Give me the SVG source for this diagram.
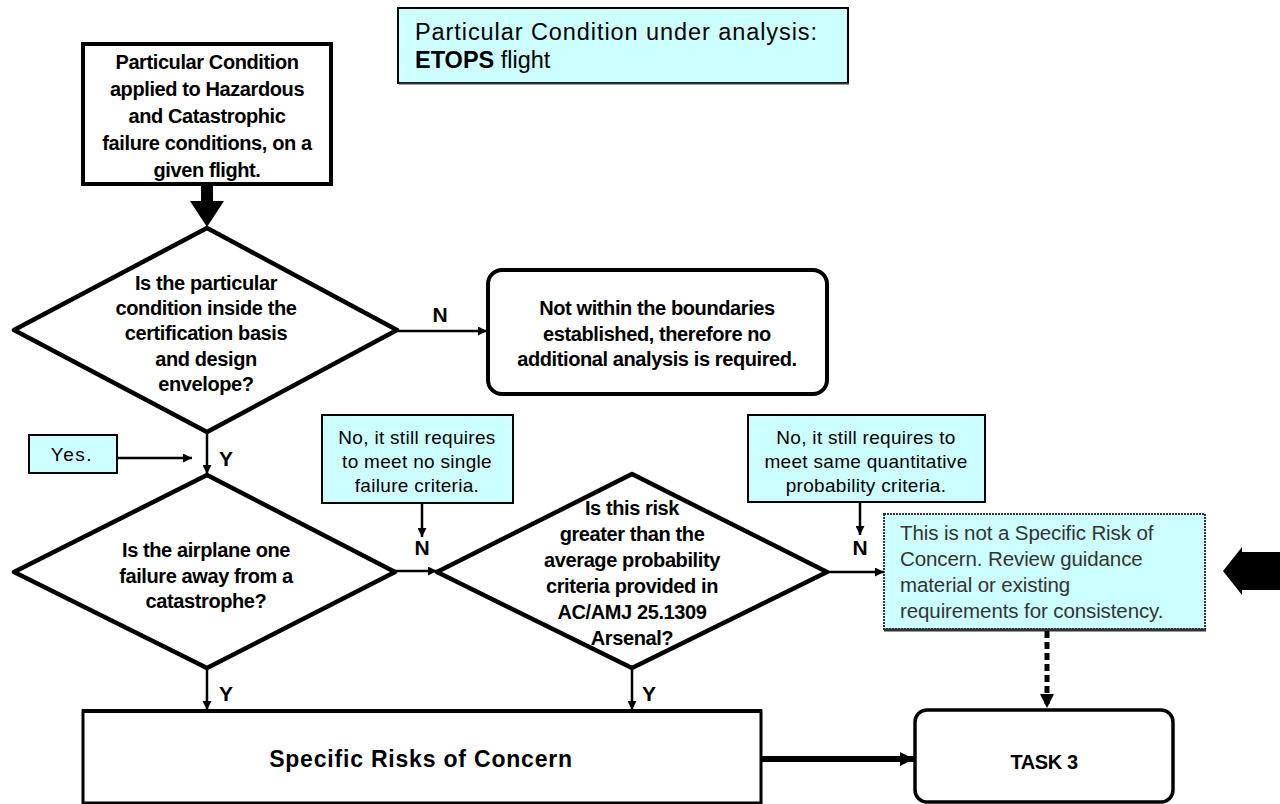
<svg xmlns="http://www.w3.org/2000/svg" width="1280" height="804" viewBox="0 0 1280 804">
<style>
text{font-family:"Liberation Sans",Arial,sans-serif;fill:#000}
.b{font-weight:bold;font-size:20px;letter-spacing:-0.4px;text-anchor:middle}
.n{font-size:19px;text-anchor:middle;letter-spacing:0.3px}
.lbl{font-weight:bold;font-size:21px;text-anchor:middle}
.dia{fill:#fff;stroke:#000;stroke-width:4.5;stroke-linejoin:round}
.note{fill:#ccffff;stroke:#000;stroke-width:2}
.con{stroke:#000;stroke-width:2.5;fill:none}
.g{font-size:20.5px;fill:#333;letter-spacing:-0.1px}
</style>
<defs>
<marker id="ah" viewBox="0 0 10 10" refX="10" refY="5" markerWidth="11" markerHeight="9" markerUnits="userSpaceOnUse" orient="auto"><path d="M0,0 L10,5 L0,10 z" fill="#000"/></marker>
<marker id="ahBig" viewBox="0 0 10 10" refX="10" refY="5" markerWidth="15" markerHeight="14" markerUnits="userSpaceOnUse" orient="auto"><path d="M0,0 L10,5 L0,10 z" fill="#000"/></marker>
</defs>
<rect width="1280" height="804" fill="#fff"/>

<g id="info">
<rect x="398" y="8" width="450" height="75" class="note" stroke-width="1.5"/>
<line x1="399" y1="83.5" x2="849" y2="83.5" stroke="#333" stroke-width="2"/>
<text x="415" y="40" font-size="23.5" textLength="402" lengthAdjust="spacing">Particular Condition under analysis:</text>
<text x="415" y="68" font-size="23.5"><tspan font-weight="bold">ETOPS</tspan> flight</text>
</g>

<g id="start">
<rect x="83" y="44" width="248" height="140" fill="#fff" stroke="#000" stroke-width="4"/>
<text class="b" x="207" y="69">Particular Condition</text>
<text class="b" x="207" y="96">applied to Hazardous</text>
<text class="b" x="207" y="123">and Catastrophic</text>
<text class="b" x="207" y="150">failure conditions, on a</text>
<text class="b" x="207" y="177">given flight.</text>
</g>

<g id="d1">
<polygon class="dia" points="207,228 397,330 207,432 14,330"/>
<text class="b" x="206" y="290">Is the particular</text>
<text class="b" x="206" y="315">condition inside the</text>
<text class="b" x="206" y="340">certification basis</text>
<text class="b" x="206" y="366">and design</text>
<text class="b" x="206" y="391">envelope?</text>
</g>

<g id="notwithin">
<rect x="488" y="270" width="339" height="124" rx="14" ry="14" fill="#fff" stroke="#000" stroke-width="4"/>
<text class="b" x="657" y="315">Not within the boundaries</text>
<text class="b" x="657" y="341">established, therefore no</text>
<text class="b" x="657" y="366">additional analysis is required.</text>
</g>

<g id="yes">
<rect x="29" y="435" width="88" height="38" class="note"/>
<text class="n" x="72" y="461" style="letter-spacing:1.5px">Yes.</text>
</g>

<g id="note1">
<rect x="322" y="415" width="191" height="88" class="note"/>
<text class="n" x="417" y="444">No, it still requires</text>
<text class="n" x="417" y="468">to meet no single</text>
<text class="n" x="417" y="492">failure criteria.</text>
</g>

<g id="note2">
<rect x="748" y="415" width="237" height="87" class="note"/>
<text class="n" x="866" y="444">No, it still requires to</text>
<text class="n" x="866" y="468">meet same quantitative</text>
<text class="n" x="866" y="492">probability criteria.</text>
</g>

<g id="d2">
<polygon class="dia" points="207,475 395,572 207,668 14,572"/>
<text class="b" x="206" y="557">Is the airplane one</text>
<text class="b" x="206" y="583">failure away from a</text>
<text class="b" x="206" y="608">catastrophe?</text>
</g>

<g id="d3">
<polygon class="dia" points="632,474 827,572 632,668 437,572"/>
<text class="b" x="632" y="515">Is this risk</text>
<text class="b" x="632" y="541">greater than the</text>
<text class="b" x="632" y="567">average probability</text>
<text class="b" x="632" y="593">criteria provided in</text>
<text class="b" x="632" y="619">AC/AMJ 25.1309</text>
<text class="b" x="632" y="645">Arsenal?</text>
</g>

<g id="notsrc">
<rect x="884" y="514" width="321" height="115" fill="#ccffff" stroke="#333" stroke-width="2" stroke-dasharray="2,1"/>
<line x1="884" y1="630" x2="1206" y2="630" stroke="#333" stroke-width="3"/>
<text class="g" x="900" y="540">This is not a Specific Risk of</text>
<text class="g" x="900" y="566">Concern. Review guidance</text>
<text class="g" x="900" y="592">material or existing</text>
<text class="g" x="900" y="618">requirements for consistency.</text>
</g>

<g id="src">
<rect x="83" y="711" width="678" height="92" fill="#fff" stroke="#000" stroke-width="3"/>
<line x1="82" y1="711" x2="762" y2="711" stroke="#000" stroke-width="4"/>
<text class="b" x="421" y="767" style="font-size:23px;letter-spacing:0.8px">Specific Risks of Concern</text>
</g>

<g id="task3">
<rect x="915" y="710" width="258" height="92" rx="12" ry="12" fill="#fff" stroke="#000" stroke-width="3.5"/>
<text class="b" x="1044" y="769">TASK 3</text>
</g>

<g id="connectors">
<path d="M201,184 L213,184 L213,201 L224,201 L207,227 L190,201 L201,201 Z" fill="#000"/>
<line class="con" x1="398" y1="331" x2="487" y2="331" marker-end="url(#ah)"/>
<line class="con" x1="207" y1="432" x2="207" y2="474" marker-end="url(#ah)"/>
<line class="con" x1="117" y1="458" x2="192" y2="458" marker-end="url(#ah)"/>
<line class="con" x1="422" y1="503" x2="422" y2="537" marker-end="url(#ah)"/>
<line class="con" x1="395" y1="571" x2="437" y2="571" marker-end="url(#ah)"/>
<line class="con" x1="860" y1="502" x2="860" y2="535" marker-end="url(#ah)"/>
<line class="con" x1="827" y1="572" x2="884" y2="572" marker-end="url(#ah)"/>
<line class="con" x1="207" y1="668" x2="207" y2="710" marker-end="url(#ah)"/>
<line class="con" x1="632" y1="668" x2="632" y2="710" marker-end="url(#ah)"/>
<line x1="761" y1="759" x2="914" y2="759" stroke="#000" stroke-width="6" marker-end="url(#ahBig)"/>
<line x1="1047" y1="631" x2="1047" y2="708" stroke="#000" stroke-width="5" stroke-dasharray="7,4" marker-end="url(#ahBig)"/>
<polygon points="1223,571 1242,547 1242,552 1280,552 1280,590 1242,590 1242,595" fill="#000"/>
<text class="lbl" x="440" y="322">N</text>
<text class="lbl" x="226" y="466">Y</text>
<text class="lbl" x="422" y="555">N</text>
<text class="lbl" x="860" y="555">N</text>
<text class="lbl" x="226" y="701">Y</text>
<text class="lbl" x="649" y="701">Y</text>
</g>
</svg>
